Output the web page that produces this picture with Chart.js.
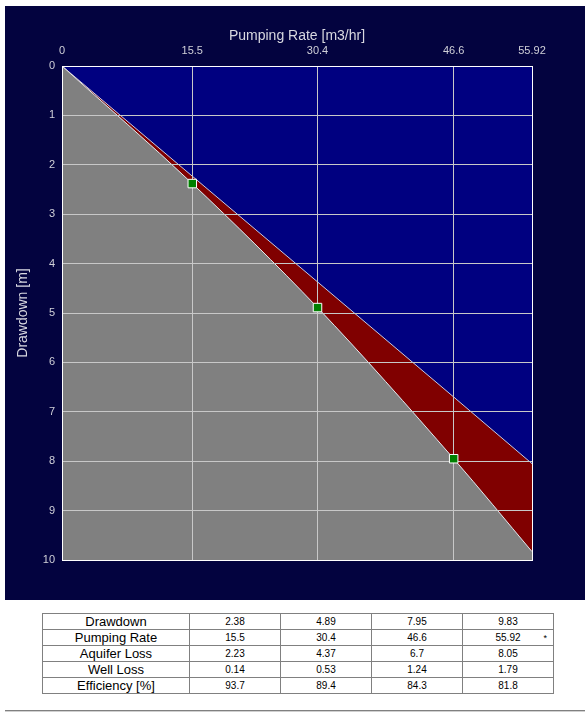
<!DOCTYPE html>
<html>
<head>
<meta charset="utf-8">
<script src="https://cdn.jsdelivr.net/npm/chart.js@4/dist/chart.umd.min.js"></script>
<style>
  html, body { margin: 0; padding: 0; background: #ffffff; }
  body { width: 585px; height: 713px; position: relative; overflow: hidden; font-family: "Liberation Sans", Arial, sans-serif; }
  #panel { position: absolute; left: 5px; top: 6px; width: 580px; height: 594px; background: #03033f; }
  #panel canvas { display: block; }
  #results { position: absolute; left: 42px; top: 613px; border-collapse: collapse; border: 1px solid #202020; }
  #results td { border: 1px solid #808080; height: 15px; padding: 0; text-align: center; color: #000; line-height: 14px; }
  #results td.name { width: 146px; font-size: 13px; }
  #results td.val { width: 90px; font-size: 10px; position: relative; }
  #results td.val .flag { position: absolute; right: 6px; top: 1px; font-size: 9px; }
  #rule { position: absolute; left: 5px; top: 710px; width: 580px; height: 1px; background: #808080; border-bottom: 1px solid #d0d0d0; }
</style>
</head>
<body>
<div id="panel"><canvas id="chart" width="580" height="594"></canvas></div>
<table id="results"></table>
<div id="rule"></div>
<script>
// Step-test results: pumping rate vs drawdown components
const pumpingRates = [15.5, 30.4, 46.6, 55.92];
const drawdown     = [2.38, 4.89, 7.95, 9.83];
const aquiferLoss  = [2.23, 4.37, 6.7, 8.05];
const wellLoss     = [0.14, 0.53, 1.24, 1.79];
const efficiency   = [93.7, 89.4, 84.3, 81.8];
const rateTicks    = [0, 15.5, 30.4, 46.6, 55.92];
const markedSteps  = 3; // measured steps shown with markers
const flaggedRateIndex = 3;

// Curves start at the origin
const totalCurve   = [{ x: 0, y: 0 }].concat(pumpingRates.map((q, i) => ({ x: q, y: drawdown[i] })));
const aquiferCurve = [{ x: 0, y: 0 }].concat(pumpingRates.map((q, i) => ({ x: q, y: aquiferLoss[i] })));
const stepPoints   = pumpingRates.slice(0, markedSteps).map((q, i) => ({ x: q, y: drawdown[i] }));

// Plot-area background and frame, plus markers drawn above the grid
const plotDecor = {
  id: 'plotDecor',
  beforeDatasetsDraw(chart) {
    const { ctx, chartArea: a } = chart;
    ctx.save();
    ctx.fillStyle = '#000080';
    ctx.fillRect(a.left, a.top, a.right - a.left, a.bottom - a.top);
    ctx.restore();
  },
  afterDraw(chart) {
    const { ctx, chartArea: a } = chart;
    const meta = chart.getDatasetMeta(2);
    meta.data.forEach(p => p.draw(ctx, a));
    ctx.save();
    ctx.strokeStyle = '#ffffff';
    ctx.lineWidth = 1;
    ctx.strokeRect(a.left + 0.5, a.top + 0.5, a.right - a.left, a.bottom - a.top);
    ctx.restore();
  }
};

const labelFont = { family: '"Liberation Sans", Arial, sans-serif', size: 11 };
const titleFont = { family: '"Liberation Sans", Arial, sans-serif', size: 14 };

new Chart(document.getElementById('chart'), {
  type: 'line',
  data: {
    datasets: [
      {
        label: 'Drawdown',
        data: totalCurve,
        borderColor: '#e8e8e8',
        borderWidth: 1,
        backgroundColor: '#808080',
        fill: { value: 10 },
        pointRadius: 0,
        cubicInterpolationMode: 'monotone'
      },
      {
        label: 'Aquifer Loss',
        data: aquiferCurve,
        borderColor: '#c8c8e0',
        borderWidth: 1,
        backgroundColor: '#800000',
        fill: '-1',
        pointRadius: 0,
        tension: 0
      },
      {
        label: 'Steps',
        data: stepPoints,
        showLine: false,
        pointStyle: 'rect',
        pointRadius: 6,
        pointBackgroundColor: '#008000',
        pointBorderColor: '#ffffff',
        pointBorderWidth: 1,
        fill: false
      }
    ]
  },
  options: {
    responsive: false,
    animation: false,
    layout: { padding: { left: 0, top: 0, right: 53, bottom: 40 } },
    plugins: { legend: { display: false }, tooltip: { enabled: false } },
    scales: {
      x: {
        type: 'linear',
        position: 'top',
        min: 0,
        max: 55.92,
        afterBuildTicks(scale) { scale.ticks = rateTicks.map(v => ({ value: v })); },
        afterFit(scale) { scale.height = 60; },
        grid: { color: '#c8c8c8', lineWidth: 1, drawTicks: false, z: 1 },
        border: { display: false },
        ticks: {
          color: '#d0d0d8', font: labelFont, padding: 8, maxRotation: 0, autoSkip: false,
          callback: v => String(v)
        },
        title: { display: true, text: 'Pumping Rate [m3/hr]', color: '#d8d8e0', font: titleFont, padding: { top: 22, bottom: 0 } }
      },
      y: {
        type: 'linear',
        reverse: true,
        min: 0,
        max: 10,
        afterFit(scale) { scale.width = 57; },
        grid: { color: '#c8c8c8', lineWidth: 1, drawTicks: false, z: 1 },
        border: { display: false },
        ticks: { stepSize: 1, color: '#d0d0d8', font: labelFont, padding: 7 },
        title: { display: true, text: 'Drawdown [m]', color: '#d8d8e0', font: titleFont, padding: { top: 10, bottom: 0 } }
      }
    }
  },
  plugins: [plotDecor]
});

// Results table
const rows = [
  ['Drawdown', drawdown],
  ['Pumping Rate', pumpingRates],
  ['Aquifer Loss', aquiferLoss],
  ['Well Loss', wellLoss],
  ['Efficiency [%]', efficiency]
];
const table = document.getElementById('results');
rows.forEach(([name, values]) => {
  const tr = document.createElement('tr');
  const th = document.createElement('td');
  th.className = 'name';
  th.textContent = name;
  tr.appendChild(th);
  values.forEach((v, i) => {
    const td = document.createElement('td');
    td.className = 'val';
    td.textContent = String(v);
    if (name === 'Pumping Rate' && i === flaggedRateIndex) {
      const s = document.createElement('span');
      s.className = 'flag';
      s.textContent = '*';
      td.appendChild(s);
    }
    tr.appendChild(td);
  });
  table.appendChild(tr);
});
</script>
</body>
</html>
